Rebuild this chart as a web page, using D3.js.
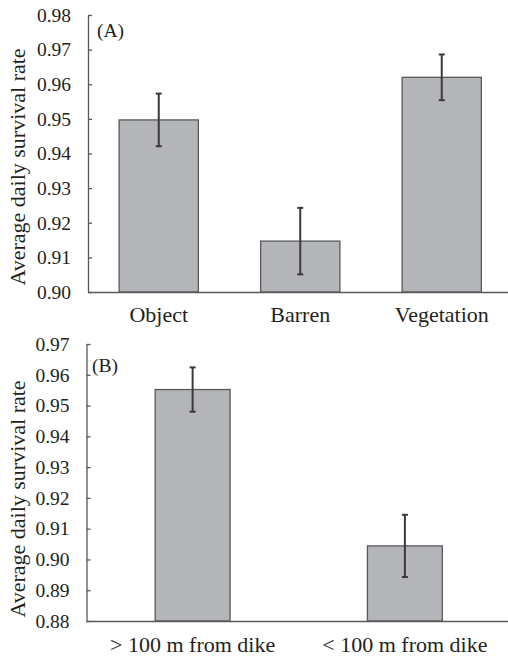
<!DOCTYPE html>
<html>
<head>
<meta charset="utf-8">
<script src="https://cdn.jsdelivr.net/npm/d3@7"></script>
<style>
  body { margin: 0; background: #fff; }
  svg text { font-family: "Liberation Serif", "Times New Roman", serif; fill: #231f20; }
  .axis path, .axis line { stroke: #58595b; stroke-width: 1.3; }
  .bar { fill: #b4b5b8; stroke: #58595b; stroke-width: 1.3; }
  .err { stroke: #3a3a3c; stroke-width: 2; }
</style>
</head>
<body>
<div id="chart"></div>
<script>
// panel A data
const catsA = ["Object", "Barren", "Vegetation"];
const meanA = [0.9497, 0.9147, 0.9620];
const errA = [0.0076, 0.0096, 0.0066];
const ticksA = [0.90, 0.91, 0.92, 0.93, 0.94, 0.95, 0.96, 0.97, 0.98];

// panel B data
const catsB = ["> 100 m from dike", "< 100 m from dike"];
const meanB = [0.9552, 0.9044];
const errB = [0.0072, 0.0101];
const ticksB = [0.88, 0.89, 0.90, 0.91, 0.92, 0.93, 0.94, 0.95, 0.96, 0.97];

const width = 508;
const height = 658;

const svg = d3.select("#chart").append("svg")
              .attr("width", width)
              .attr("height", height);

function drawPanel(opts) {
  const {cats, means, errs, ticks, xRange, yRange, padInner, labelPad, tag, tagPos, titleY} = opts;

  const data = cats.map((c, i) => ({cat: c, mean: means[i], err: errs[i]}));

  // scales
  const x = d3.scaleBand()
              .domain(cats)
              .range(xRange)
              .paddingInner(padInner)
              .paddingOuter(padInner / 2);

  const y = d3.scaleLinear()
              .domain(d3.extent(ticks))
              .range(yRange);

  const g = svg.append("g");

  // bars
  g.selectAll(".bar")
    .data(data)
    .enter().append("rect")
      .attr("class", "bar")
      .attr("x", d => x(d.cat))
      .attr("width", x.bandwidth())
      .attr("y", d => y(d.mean))
      .attr("height", d => y.range()[0] - y(d.mean));

  // error bars
  const eb = g.selectAll(".eb")
              .data(data)
              .enter().append("g")
                .attr("class", "eb")
                .attr("transform", d => `translate(${x(d.cat) + x.bandwidth() / 2},0)`);

  eb.append("line")
    .attr("class", "err")
    .attr("y1", d => y(d.mean + d.err))
    .attr("y2", d => y(d.mean - d.err));

  [1, -1].forEach(s => {
    eb.append("line")
      .attr("class", "err")
      .attr("x1", -3).attr("x2", 3)
      .attr("y1", d => y(d.mean + s * d.err))
      .attr("y2", d => y(d.mean + s * d.err));
  });

  // y axis, ticks pointing inward
  g.append("g")
    .attr("class", "axis")
    .attr("transform", `translate(${xRange[0]},0)`)
    .call(d3.axisLeft(y)
            .tickValues(ticks)
            .tickFormat(d3.format(".2f"))
            .tickSizeInner(-4)
            .tickSizeOuter(0)
            .tickPadding(17))
    .call(a => a.selectAll("text").style("font-size", "19.5px"));

  // x axis, plain baseline
  g.append("g")
    .attr("class", "axis")
    .attr("transform", `translate(0,${yRange[0]})`)
    .call(d3.axisBottom(x)
            .tickSize(0)
            .tickPadding(labelPad))
    .call(a => a.select(".domain").attr("d", `M${xRange[0]},0.5H${width}`))
    .call(a => a.selectAll("text").style("font-size", "22px"));

  // y axis title
  g.append("text")
    .attr("transform", `translate(25,${titleY}) rotate(-90)`)
    .attr("text-anchor", "middle")
    .style("font-size", "22px")
    .text("Average daily survival rate");

  // panel tag
  g.append("text")
    .attr("x", tagPos[0])
    .attr("y", tagPos[1])
    .style("font-size", "19.5px")
    .text(tag);
}

drawPanel({
  cats: catsA, means: meanA, errs: errA, ticks: ticksA,
  xRange: [88, 512.5], yRange: [292, 15], padInner: 0.44,
  labelPad: 14, tag: "(A)", tagPos: [97, 37], titleY: 167
});

drawPanel({
  cats: catsB, means: meanB, errs: errB, ticks: ticksB,
  xRange: [86.5, 511], yRange: [621, 344], padInner: 0.647,
  labelPad: 15, tag: "(B)", tagPos: [92, 372], titleY: 499
});
</script>
</body>
</html>
